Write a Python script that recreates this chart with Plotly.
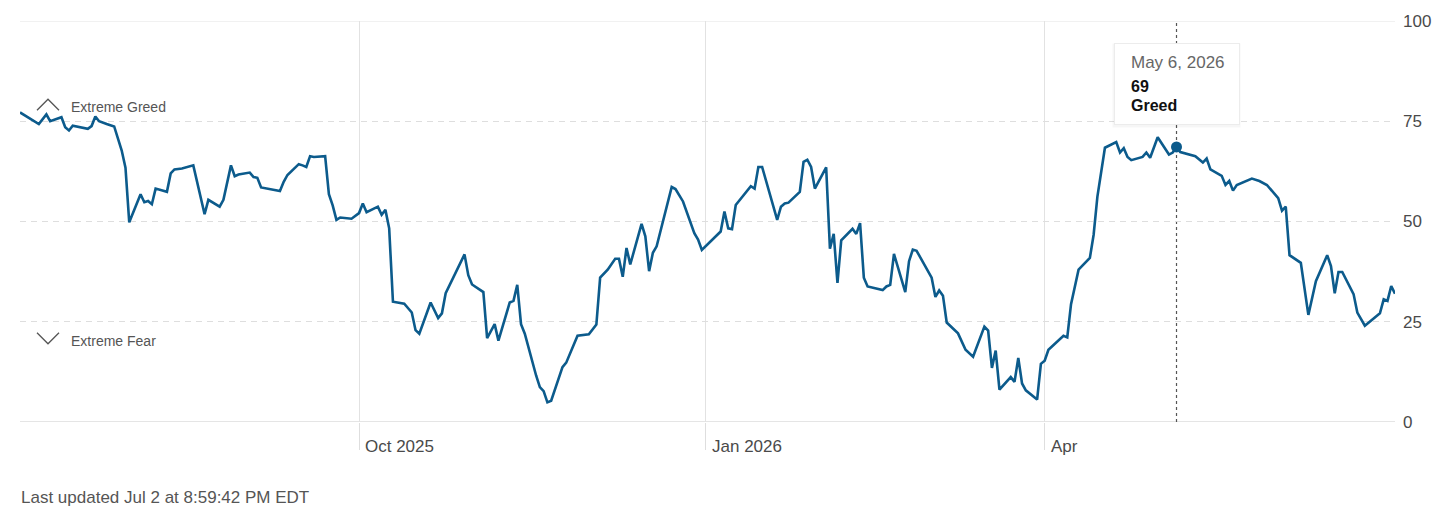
import datetime as dt
import plotly.graph_objects as go

# ---------------- data ----------------
dates = [
    "2025-07-03", "2025-07-08", "2025-07-10", "2025-07-11", "2025-07-14", "2025-07-15", "2025-07-16",
    "2025-07-17", "2025-07-21", "2025-07-22", "2025-07-23", "2025-07-24", "2025-07-26", "2025-07-28",
    "2025-07-30", "2025-07-31", "2025-08-01", "2025-08-04", "2025-08-05", "2025-08-06", "2025-08-07",
    "2025-08-08", "2025-08-11", "2025-08-12", "2025-08-13", "2025-08-15", "2025-08-18", "2025-08-21",
    "2025-08-22", "2025-08-25", "2025-08-26", "2025-08-28", "2025-08-29", "2025-08-30", "2025-09-02",
    "2025-09-03", "2025-09-04", "2025-09-05", "2025-09-10", "2025-09-11", "2025-09-12", "2025-09-15",
    "2025-09-16", "2025-09-17", "2025-09-18", "2025-09-19", "2025-09-22", "2025-09-23", "2025-09-24",
    "2025-09-25", "2025-09-26", "2025-09-29", "2025-10-01", "2025-10-02", "2025-10-03", "2025-10-06",
    "2025-10-07", "2025-10-08", "2025-10-09", "2025-10-10", "2025-10-13", "2025-10-14", "2025-10-15",
    "2025-10-16", "2025-10-17", "2025-10-20", "2025-10-22", "2025-10-23", "2025-10-24", "2025-10-29",
    "2025-10-30", "2025-10-31", "2025-11-03", "2025-11-04", "2025-11-06", "2025-11-07", "2025-11-10",
    "2025-11-11", "2025-11-12", "2025-11-13", "2025-11-14", "2025-11-17", "2025-11-18", "2025-11-19",
    "2025-11-20", "2025-11-21", "2025-11-24", "2025-11-25", "2025-11-28", "2025-12-01", "2025-12-03",
    "2025-12-04", "2025-12-06", "2025-12-08", "2025-12-09", "2025-12-10", "2025-12-11", "2025-12-12",
    "2025-12-15", "2025-12-16", "2025-12-17", "2025-12-18", "2025-12-19", "2025-12-23", "2025-12-24",
    "2025-12-26", "2025-12-29", "2025-12-30", "2025-12-31", "2026-01-05", "2026-01-06", "2026-01-07",
    "2026-01-08", "2026-01-09", "2026-01-13", "2026-01-14", "2026-01-15", "2026-01-16", "2026-01-20",
    "2026-01-21", "2026-01-22", "2026-01-23", "2026-01-26", "2026-01-27", "2026-01-28", "2026-01-29",
    "2026-01-30", "2026-02-02", "2026-02-03", "2026-02-04", "2026-02-05", "2026-02-06", "2026-02-09",
    "2026-02-10", "2026-02-11", "2026-02-12", "2026-02-13", "2026-02-17", "2026-02-18", "2026-02-19",
    "2026-02-20", "2026-02-23", "2026-02-24", "2026-02-25", "2026-02-26", "2026-03-02", "2026-03-03",
    "2026-03-04", "2026-03-05", "2026-03-06", "2026-03-09", "2026-03-11", "2026-03-13", "2026-03-16",
    "2026-03-17", "2026-03-18", "2026-03-19", "2026-03-20", "2026-03-23", "2026-03-24", "2026-03-25",
    "2026-03-26", "2026-03-27", "2026-03-30", "2026-03-31", "2026-04-01", "2026-04-02", "2026-04-06",
    "2026-04-07", "2026-04-08", "2026-04-10", "2026-04-13", "2026-04-14", "2026-04-15", "2026-04-16",
    "2026-04-17", "2026-04-20", "2026-04-21", "2026-04-22", "2026-04-23", "2026-04-24", "2026-04-27",
    "2026-04-28", "2026-04-29", "2026-05-01", "2026-05-04", "2026-05-05", "2026-05-06", "2026-05-07",
    "2026-05-11", "2026-05-13", "2026-05-14", "2026-05-15", "2026-05-18", "2026-05-19", "2026-05-20",
    "2026-05-21", "2026-05-22", "2026-05-26", "2026-05-28", "2026-05-30", "2026-06-02", "2026-06-03",
    "2026-06-04", "2026-06-05", "2026-06-08", "2026-06-10", "2026-06-12", "2026-06-15", "2026-06-16",
    "2026-06-17", "2026-06-18", "2026-06-19", "2026-06-22", "2026-06-23", "2026-06-25", "2026-06-29",
    "2026-06-30", "2026-07-01", "2026-07-02", "2026-07-03",
]
values = [
    77.2, 74.3, 76.7, 75.0, 76.0, 73.5, 72.7,
    73.9, 73.1, 73.8, 76.2, 75.0, 74.3, 73.7,
    67.7, 63.4, 49.8, 56.8, 54.8, 55.1, 54.3,
    58.2, 57.4, 62.0, 63.0, 63.2, 64.0, 51.8,
    55.4, 53.7, 55.4, 64.0, 61.3, 61.7, 62.2,
    61.1, 60.9, 58.5, 57.6, 59.9, 61.6, 64.3,
    64.0, 63.6, 66.3, 66.1, 66.3, 56.8, 54.0,
    50.4, 51.0, 50.7, 52.1, 54.5, 52.3, 53.7,
    51.7, 52.9, 48.3, 30.0, 29.5, 28.5, 27.3,
    22.9, 22.0, 29.8, 25.9, 27.1, 32.1, 41.8,
    36.6, 34.3, 32.4, 20.9, 24.4, 20.3, 29.8,
    30.2, 34.2, 24.4, 22.0, 11.6, 8.7, 7.7,
    4.9, 5.3, 13.7, 14.8, 21.5, 21.9, 24.3,
    36.0, 38.0, 40.7, 40.7, 36.2, 43.4, 39.3,
    49.4, 46.3, 37.6, 42.2, 43.8, 58.6, 58.1,
    55.0, 47.1, 45.5, 42.9, 47.5, 52.5, 48.3,
    48.1, 54.1, 58.8, 58.2, 63.6, 63.6, 50.4,
    53.7, 54.5, 54.7, 57.4, 64.9, 65.4, 63.6,
    58.2, 63.5, 43.2, 46.9, 34.7, 45.3, 48.2,
    46.9, 49.6, 36.0, 33.8, 32.9, 33.8, 34.2,
    41.9, 32.4, 40.1, 43.0, 42.7, 36.0, 31.2,
    32.8, 31.5, 24.8, 22.1, 18.0, 16.3, 23.8,
    22.8, 13.5, 17.8, 8.1, 11.2, 10.0, 16.0,
    9.6, 7.9, 5.6, 14.5, 15.3, 18.0, 21.5,
    21.1, 29.4, 38.0, 40.9, 46.7, 56.2, 62.0,
    68.4, 69.8, 67.2, 68.3, 66.1, 65.3, 66.1,
    67.2, 65.9, 71.0, 66.7, 67.2, 68.6, 67.3,
    66.3, 64.7, 65.7, 63.0, 61.4, 59.1, 60.1,
    57.7, 59.1, 60.7, 60.1, 59.1, 55.8, 52.7,
    53.7, 41.6, 39.7, 26.7, 35.1, 41.6, 38.9,
    32.1, 37.4, 37.4, 31.9, 27.3, 24.0, 27.1,
    30.6, 30.2, 33.9, 32.0,
]

x_range = ["2025-07-03", "2026-07-03"]
tick_dates = ["2025-10-01", "2026-01-01", "2026-04-01"]
tick_labels = ["Oct 2025", "Jan 2026", "Apr"]
y_ticks = [0, 25, 50, 75, 100]
zone_labels = ["Extreme Greed", "Extreme Fear"]
zone_levels = [75, 25]

highlight_date = "2026-05-06"
highlight_rating = "Greed"
footer_text = "Last updated Jul 2 at 8:59:42 PM EDT"

# ---------------- styling ----------------
FONT = "'Liberation Sans', Arial, sans-serif"
LINE_COLOR = "#0c5b8c"
TEXT_GRAY = "#555555"
GRID_GRAY = "#dedede"

h_idx = dates.index(highlight_date)
h_val = values[h_idx]
h_dt = dt.date.fromisoformat(highlight_date)
h_date_text = f"{h_dt:%b} {h_dt.day}, {h_dt.year}"

fig = go.Figure()

fig.add_trace(go.Scatter(
    x=dates, y=values, mode="lines",
    line=dict(color=LINE_COLOR, width=2.6),
    hoverinfo="skip", showlegend=False,
))
fig.add_trace(go.Scatter(
    x=[highlight_date], y=[h_val], mode="markers",
    marker=dict(color=LINE_COLOR, size=11),
    hoverinfo="skip", showlegend=False,
))

shapes = []
# solid lines at 0 and 100
for lvl, col in [(0, "#cccccc"), (100, "#e4e4e4")]:
    shapes.append(dict(type="line", xref="paper", yref="y", x0=0, x1=1, y0=lvl, y1=lvl,
                       line=dict(color=col, width=1.2), layer="below"))
# highlighted date guide
shapes.append(dict(type="line", xref="x", yref="paper", x0=highlight_date, x1=highlight_date,
                   y0=0, y1=1, line=dict(color="#555555", width=1.2, dash="dot"), layer="below"))
# chevrons
shapes.append(dict(type="path", xref="paper", yref="y", xsizemode="pixel", ysizemode="pixel",
                   xanchor=0, yanchor=zone_levels[0], path="M17,11 L28,22 L39,11",
                   line=dict(color=TEXT_GRAY, width=1.3)))
shapes.append(dict(type="path", xref="paper", yref="y", xsizemode="pixel", ysizemode="pixel",
                   xanchor=0, yanchor=zone_levels[1], path="M17,-11 L28,-22 L39,-11",
                   line=dict(color=TEXT_GRAY, width=1.3)))

annotations = []
# x tick labels to the right of tick lines
for d, lab in zip(tick_dates, tick_labels):
    annotations.append(dict(x=d, xref="x", y=0, yref="paper", text=lab, showarrow=False,
                            xanchor="left", yanchor="middle", xshift=4, yshift=-24,
                            font=dict(family=FONT, size=17, color="#4a4a4a")))
# zone labels
annotations.append(dict(x=0, xref="paper", y=zone_levels[0], yref="y", text=zone_labels[0],
                        showarrow=False, xanchor="left", yanchor="middle", xshift=49, yshift=14,
                        font=dict(family=FONT, size=14, color=TEXT_GRAY)))
annotations.append(dict(x=0, xref="paper", y=zone_levels[1], yref="y", text=zone_labels[1],
                        showarrow=False, xanchor="left", yanchor="middle", xshift=49, yshift=-19,
                        font=dict(family=FONT, size=14, color=TEXT_GRAY)))
# footer
annotations.append(dict(x=0, xref="paper", y=0, yref="paper", text=footer_text, showarrow=False,
                        xanchor="left", yanchor="middle", xshift=-1, yshift=-75,
                        font=dict(family=FONT, size=17, color=TEXT_GRAY)))
# tooltip: shadow, box, texts
box_y = 84  # data units, box centre
annotations.append(dict(x=highlight_date, xref="x", y=box_y, yref="y", text=" ", showarrow=False,
                        xanchor="center", yanchor="middle", width=127, height=83, yshift=0,
                        bgcolor="rgba(0,0,0,0.035)", borderpad=0))
annotations.append(dict(x=highlight_date, xref="x", y=box_y, yref="y", text=" ", showarrow=False,
                        xanchor="center", yanchor="middle", width=124, height=80, yshift=1.5,
                        bgcolor="white", bordercolor="#ececec", borderwidth=1, borderpad=0))
annotations.append(dict(x=highlight_date, xref="x", y=box_y, yref="y", text=h_date_text,
                        showarrow=False, xanchor="left", yanchor="middle", xshift=-48, yshift=23,
                        font=dict(family=FONT, size=17, color="#666666")))
annotations.append(dict(x=highlight_date, xref="x", y=box_y, yref="y", text=f"{round(h_val)}",
                        showarrow=False, xanchor="left", yanchor="middle", xshift=-48, yshift=-1,
                        font=dict(family=FONT, size=16, color="#111111", weight="bold")))
annotations.append(dict(x=highlight_date, xref="x", y=box_y, yref="y", text=highlight_rating,
                        showarrow=False, xanchor="left", yanchor="middle", xshift=-48, yshift=-20,
                        font=dict(family=FONT, size=16, color="#111111", weight="bold")))

fig.update_layout(
    width=1456, height=518,
    margin=dict(l=20, r=61, t=18, b=96),
    paper_bgcolor="white", plot_bgcolor="white",
    hovermode=False,
    shapes=shapes, annotations=annotations,
    xaxis=dict(
        type="date", range=x_range,
        tickvals=tick_dates, showticklabels=False,
        ticks="outside", ticklen=27, tickwidth=1, tickcolor=GRID_GRAY,
        showgrid=True, gridcolor="#e2e2e2", gridwidth=1,
        showline=False, zeroline=False, fixedrange=True,
    ),
    yaxis=dict(
        range=[0, 100], side="right", tickvals=y_ticks,
        showgrid=True, gridcolor=GRID_GRAY, griddash="6px,5px", gridwidth=1,
        ticks="", ticklabelstandoff=7, zeroline=False, showline=False,
        tickfont=dict(family=FONT, size=17, color="#4a4a4a"), fixedrange=True,
    ),
)

fig.write_html(
    "out.html",
    config={"displayModeBar": False},
    post_script="document.body.style.margin='0';document.body.style.overflow='hidden';",
)
